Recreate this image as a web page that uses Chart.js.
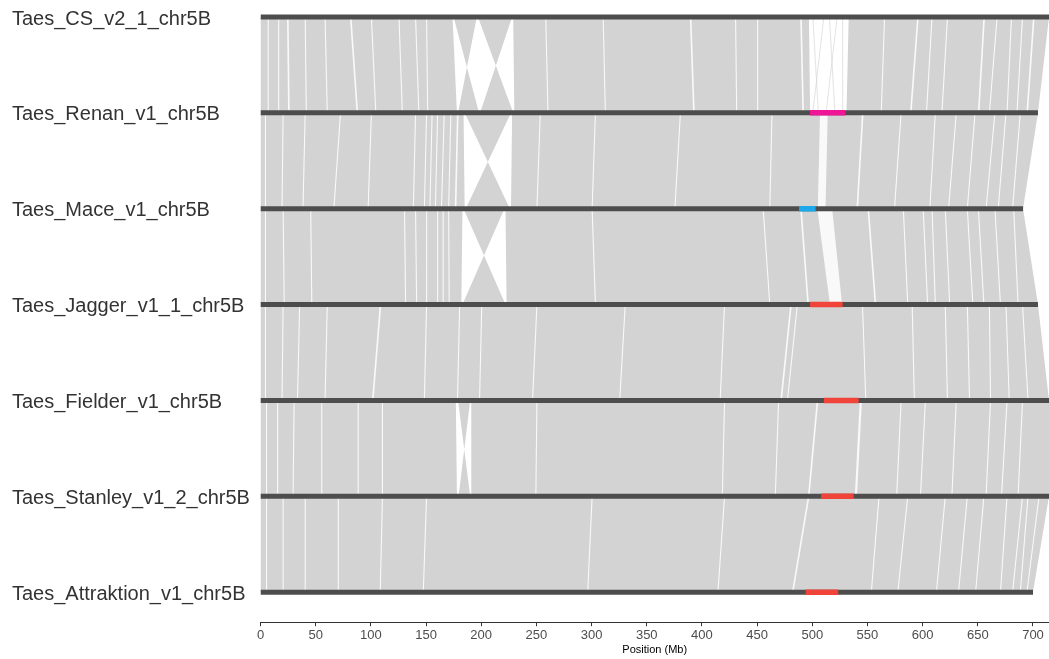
<!DOCTYPE html>
<html>
<head>
<meta charset="utf-8">
<title>chr5B synteny</title>
<script src="https://cdn.jsdelivr.net/npm/chart.js@4.4.0/dist/chart.umd.min.js"></script>
<style>
  html, body { margin: 0; padding: 0; background: #fff; }
  #wrap { width: 1049px; height: 659px; position: relative; }
</style>
</head>
<body>
<div id="wrap"><canvas id="synteny"></canvas></div>
<script>
// genomes top to bottom, lengths in Mb
const genomes = [
  'Taes_CS_v2_1_chr5B',
  'Taes_Renan_v1_chr5B',
  'Taes_Mace_v1_chr5B',
  'Taes_Jagger_v1_1_chr5B',
  'Taes_Fielder_v1_chr5B',
  'Taes_Stanley_v1_2_chr5B',
  'Taes_Attraktion_v1_chr5B'
];
const chromLength = [714.5, 704.5, 691, 704.5, 714.5, 714.5, 700];

// highlighted region on each chromosome (Mb)
const regionStart = [null, 498, 488, 498, 510.5, 508, 494];
const regionEnd   = [null, 530, 503, 527.5, 542, 537.5, 523.5];
const regionColor = [null, '#EE1597', '#1CA8EA', '#F0433A', '#F0433A', '#F0433A', '#F0433A'];

const xTicks = [0, 50, 100, 150, 200, 250, 300, 350, 400, 450, 500, 550, 600, 650, 700];

// aligned blocks between neighbour rows: [topStart, topEnd, bottomStart, bottomEnd]
// bottomStart > bottomEnd means the block is inverted
const syntenyBlocks = [
  [[0, 174, 0, 178], [175, 196, 198, 179], [197, 228, 229, 199], [229, 497, 230, 498], [533, 714.5, 531, 704.5]],
  [[0, 184, 0, 185], [185, 227, 226, 186], [228, 704.5, 227, 691]],
  [[0, 183, 0, 182], [184, 221, 222, 183], [222, 691, 223, 704.5]],
  [[0, 704.5, 0, 714.5]],
  [[0, 177, 0, 178], [179, 190, 190, 179.5], [191, 714.5, 191, 714.5]],
  [[0, 714.5, 0, 700]]
];

// unaligned stretches (white streaks) between neighbour rows
const alignmentGaps = [
  [[6.5, 7.5, 6.5, 7.5], [16, 17, 16, 17], [24, 25.5, 25, 26.5], [40, 41, 41, 42], [58, 59, 60, 61],
   [81, 82.5, 87, 88.5], [100, 101, 104, 105], [125, 126, 128, 129], [140, 141, 143, 144], [150, 151, 151, 152],
   [258, 259, 260, 261], [310, 311, 312, 313], [389, 390.5, 392, 393.5], [430, 431, 431, 432], [450, 451, 450, 451],
   [489, 490.5, 491, 492.5], [565, 566, 562, 563], [595, 596.5, 588.5, 590], [608, 609, 603, 604], [622, 623, 617, 618],
   [655, 656.5, 650, 651.5], [667, 668, 660, 661], [680, 681, 676, 677], [690, 691, 685, 686], [700, 701.5, 694, 695.5]],
  [[4, 5, 4, 5], [20, 21, 19, 20], [40, 41, 38, 39], [72, 73, 66, 67], [100, 101, 97, 98], [140, 141, 138, 139],
   [150, 151, 148, 149], [155, 156, 153, 154], [160, 161, 158, 159], [166, 167, 163.5, 164.5], [172, 173, 170, 171],
   [178, 179.5, 176, 177.5], [253, 254, 250, 251], [303, 304, 300, 301], [380, 381, 375, 376], [463, 464, 461, 462],
   [507, 514, 505, 512], [545, 546.5, 540, 541.5], [580, 581, 574, 575], [611, 612, 606, 607], [630, 631, 623, 624],
   [647, 648, 640, 641], [665, 666, 657, 658], [675, 676, 668, 669], [688, 689, 681, 682]],
  [[4, 5, 4, 5], [20, 21, 21, 22], [45, 46, 46, 47], [130, 131, 131, 132], [140, 141, 141, 142], [150, 151, 150, 151],
   [160, 161, 160, 161], [165, 166, 165, 166], [170, 171, 170.5, 171.5], [300, 301, 303, 304], [455, 456, 461, 462],
   [489, 490.5, 495.5, 497], [504.5, 518, 516, 527], [550, 551.5, 556.5, 558], [582, 583, 586, 587], [600, 601, 604, 605],
   [608, 609, 611, 612], [620, 621, 624, 625], [640, 641, 645, 646], [650, 651, 655, 656], [665, 666, 670, 671],
   [682, 683, 686, 687]],
  [[4, 5, 4, 5], [20, 21, 19, 20], [35, 36, 33, 34], [60, 61, 58, 59], [108, 109.5, 101, 102.5], [150, 151, 148, 149],
   [180, 181, 178, 179], [200, 201, 198, 199], [250, 251, 246, 247], [330, 331, 325, 326], [420, 421, 416, 417],
   [480, 481.5, 471, 472.5], [486, 487, 477, 478], [545, 546, 548, 549], [590, 591, 592, 593], [620, 621, 622, 623],
   [640, 641, 642, 643], [660, 661, 661, 662], [675, 676, 678, 679], [690, 691, 695, 696]],
  [[5, 6, 5, 6], [15, 16, 15, 16], [30, 31, 29, 30], [55, 56, 55, 56], [88, 89, 88, 89], [110, 111, 110, 111],
   [250, 251, 249, 250], [420, 421, 418, 419], [469, 470, 466, 467], [504, 505.5, 496, 497.5], [543, 545, 538.5, 540.5],
   [580, 581, 576, 577], [602, 603, 597.5, 598.5], [630, 631, 626, 627], [661, 662, 657, 658], [676, 677, 671, 672],
   [690, 691, 686, 687]],
  [[5, 6, 5, 6], [20, 21, 20, 21], [40, 41, 40, 41], [70, 71, 70, 71], [110, 111, 108, 109], [150, 151, 147, 148],
   [300, 301, 296, 297], [420, 421, 414, 415], [496, 497.5, 481.5, 483], [560, 561, 553, 554], [586, 587, 577, 578],
   [620, 621, 612, 613], [640, 641, 632, 633], [655, 656, 647.5, 648.5], [676, 677, 670, 671], [690, 691, 681, 682],
   [695, 696, 688, 689], [705, 706, 694, 695]]
];

// faint alignments crossing the CS / Renan gap
const faintLinks = [[500, 501, 505, 506], [510, 511, 500, 501], [515, 516, 520, 521], [522, 523, 512, 513], [527, 528, 527, 528]];

const fontFamily = "'Liberation Sans', Arial, Helvetica, sans-serif";

function polygon(link, row, color, order) {
  const [ts, te, bs, be] = link;
  return {
    data: [{x: ts, y: row}, {x: te, y: row}, {x: be, y: row + 1}, {x: bs, y: row + 1}],
    fill: 'shape',
    backgroundColor: color,
    borderColor: 'transparent',
    borderWidth: 0,
    pointRadius: 0,
    order: order
  };
}

const datasets = [];
syntenyBlocks.forEach((blocks, row) => blocks.forEach(b => datasets.push(polygon(b, row, '#d3d3d3', 5))));
faintLinks.forEach(l => datasets.push(polygon(l, 0, 'rgba(211,211,211,0.6)', 4)));
alignmentGaps.forEach((gaps, row) => gaps.forEach(g => datasets.push(polygon(g, row, 'rgba(255,255,255,0.85)', 3))));

chromLength.forEach((len, row) => {
  datasets.push({
    data: [{x: 0, y: row}, {x: len, y: row}],
    borderColor: '#4d4d4d',
    borderWidth: 5,
    borderCapStyle: 'butt',
    pointRadius: 0,
    fill: false,
    order: 1
  });
});

regionStart.forEach((start, row) => {
  if (start === null) return;
  datasets.push({
    data: [{x: start, y: row}, {x: regionEnd[row], y: row}],
    borderColor: regionColor[row],
    borderWidth: 5.5,
    borderCapStyle: 'butt',
    pointRadius: 0,
    fill: false,
    order: 0
  });
});

new Chart(document.getElementById('synteny'), {
  type: 'line',
  data: { datasets: datasets },
  options: {
    responsive: true,
    maintainAspectRatio: false,
    animation: false,
    events: [],
    layout: { padding: { left: 12, right: 0, top: 0, bottom: 0 } },
    plugins: {
      legend: { display: false },
      tooltip: { enabled: false }
    },
    scales: {
      x: {
        type: 'linear',
        min: 0,
        max: 714.5,
        afterBuildTicks: s => { s.ticks = xTicks.map(v => ({value: v})); },
        grid: { drawOnChartArea: false, drawTicks: true, tickLength: 4, color: '#333' },
        border: { display: true, color: '#333', width: 1 },
        ticks: { color: '#4d4d4d', padding: 1, maxRotation: 0, autoSkip: false,
                 font: { family: fontFamily, size: 13 } },
        title: { display: true, text: 'Position (Mb)', color: '#000', padding: { top: 0, bottom: 2 },
                 font: { family: fontFamily, size: 11 } }
      },
      y: {
        type: 'linear',
        reverse: true,
        min: -0.0521,
        max: 6.3125,
        afterBuildTicks: s => { s.ticks = genomes.map((g, i) => ({value: i})); },
        afterFit: s => { s.width = 248.5; },
        grid: { display: false },
        border: { display: false },
        ticks: {
          crossAlign: 'far',
          padding: 0,
          labelOffset: 2,
          color: '#333',
          autoSkip: false,
          font: { family: fontFamily, size: 20 },
          callback: v => genomes[v] ?? ''
        }
      }
    }
  }
});
</script>
</body>
</html>
